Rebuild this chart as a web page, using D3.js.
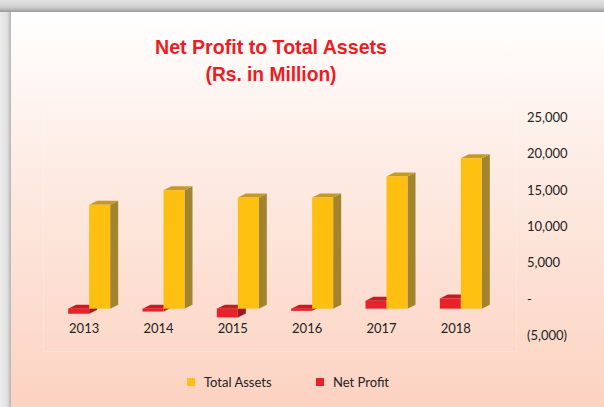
<!DOCTYPE html>
<html>
<head>
<meta charset="utf-8">
<script src="https://cdn.jsdelivr.net/npm/d3@7"></script>
<style>
  html, body { margin: 0; padding: 0; background: #e6e6e6; }
  svg { display: block; }
</style>
</head>
<body>
<svg id="chart" width="604" height="407"></svg>
<script>
// Figures in Rs. million
const years = ["2013", "2014", "2015", "2016", "2017", "2018"];
const totalAssets = [14300, 16300, 15300, 15300, 18200, 20700];
const netProfit = [-700, -400, -1200, -300, 1100, 1400];
const tickValues = [25000, 20000, 15000, 10000, 5000, 0, -5000];
const tickLabels = ["25,000", "20,000", "15,000", "10,000", "5,000", "-", "(5,000)"];
const seriesNames = ["Net Profit", "Total Assets"];

const W = 604, H = 407;
const svg = d3.select("#chart");
const defs = svg.append("defs");

// page background and card
const outer = defs.append("linearGradient").attr("id", "topShade").attr("x1", 0).attr("x2", 0).attr("y1", 0).attr("y2", 1);
outer.append("stop").attr("offset", "0%").attr("stop-color", "#e2e2e2");
outer.append("stop").attr("offset", "60%").attr("stop-color", "#cfcfcf");
outer.append("stop").attr("offset", "100%").attr("stop-color", "#9a9a9a");
const leftShade = defs.append("linearGradient").attr("id", "leftShade").attr("x1", 0).attr("x2", 1).attr("y1", 0).attr("y2", 0);
leftShade.append("stop").attr("offset", "0%").attr("stop-color", "#ececec");
leftShade.append("stop").attr("offset", "65%").attr("stop-color", "#e0e0e0");
leftShade.append("stop").attr("offset", "100%").attr("stop-color", "#b5b5b5");
const card = defs.append("linearGradient").attr("id", "cardFill").attr("x1", 0).attr("x2", 0).attr("y1", 0).attr("y2", 1);
card.append("stop").attr("offset", "0%").attr("stop-color", "#ffffff");
card.append("stop").attr("offset", "45%").attr("stop-color", "#fde9e0");
card.append("stop").attr("offset", "100%").attr("stop-color", "#fcd2c1");

svg.append("rect").attr("x", 0).attr("y", 0).attr("width", W).attr("height", H).attr("fill", "#e4e4e4");
svg.append("rect").attr("x", 0).attr("y", 0).attr("width", W).attr("height", 12).attr("fill", "url(#topShade)");
svg.append("rect").attr("x", 0).attr("y", 12).attr("width", 11).attr("height", H - 12).attr("fill", "url(#leftShade)");
svg.append("rect").attr("x", 11).attr("y", 12).attr("width", W - 11).attr("height", H - 12).attr("fill", "url(#cardFill)");

// title
const title = svg.append("g").attr("font-family", "'Liberation Sans', Arial, sans-serif")
  .attr("font-weight", "bold").attr("fill", "#ec1c24").attr("text-anchor", "middle");
title.append("text").attr("x", 271).attr("y", 54).attr("font-size", 21)
  .attr("textLength", 232).attr("lengthAdjust", "spacingAndGlyphs").text("Net Profit to Total Assets");
title.append("text").attr("x", 271).attr("y", 81).attr("font-size", 21)
  .attr("textLength", 131).attr("lengthAdjust", "spacingAndGlyphs").text("(Rs. in Million)");

// plot area outline (very faint)
svg.append("rect").attr("x", 43.5).attr("y", 110.5).attr("width", 473).attr("height", 241)
  .attr("fill", "none").attr("stroke", "#ffffff").attr("stroke-opacity", 0.22).attr("stroke-width", 1);

// scales
const x = d3.scaleBand().domain(years).range([47, 493]);
const xs = d3.scaleBand().domain(seriesNames).range([-16, 26]);
const yAxis = d3.scaleLinear().domain([-5000, 25000]).range([335, 117]);
const frontShift = 10;           // front face sits below the back wall
const y = v => yAxis(v) + frontShift;
const dx = 8, dy = -4;           // oblique depth of each column

// value axis on the right
const axisG = svg.append("g").attr("transform", "translate(527,0)")
  .call(d3.axisRight(yAxis).tickValues(tickValues).tickSize(0).tickPadding(0)
    .tickFormat((d, i) => tickLabels[i]));
axisG.select(".domain").remove();
axisG.selectAll("text").attr("font-family", "Lato, 'Open Sans', sans-serif").attr("font-size", 13)
  .attr("fill", "#222").attr("text-anchor", "start").attr("dy", "0.35em");

// category labels
svg.append("g").selectAll("text").data(years).join("text")
  .attr("x", d => x(d) + x.bandwidth() / 2).attr("y", 333)
  .attr("text-anchor", "middle").attr("font-family", "Lato, 'Open Sans', sans-serif")
  .attr("font-size", 13).attr("fill", "#222").text(d => d);

const palette = {
  "Total Assets": { front: "#fdbf10", side: "#a2842f", top: "#c49a26" },
  "Net Profit": { front: "#e8212a", side: "#9c1a1f", top: "#c11d24" }
};

const bars = [];
years.forEach((yr, i) => {
  bars.push({ year: yr, series: "Net Profit", value: netProfit[i] });
  bars.push({ year: yr, series: "Total Assets", value: totalAssets[i] });
});

const barG = svg.append("g");
bars.forEach(b => {
  const x0 = x(b.year) + x.bandwidth() / 2 + xs(b.series);
  const w = xs.bandwidth();
  const yTop = y(Math.max(b.value, 0));
  const yBot = y(Math.min(b.value, 0));
  const c = palette[b.series];
  const g = barG.append("g");
  // right side
  g.append("path").attr("fill", c.side)
    .attr("d", `M${x0 + w},${yTop} L${x0 + w + dx},${yTop + dy} L${x0 + w + dx},${yBot + dy} L${x0 + w},${yBot} Z`);
  // top face
  g.append("path").attr("fill", c.top)
    .attr("d", `M${x0},${yTop} L${x0 + dx},${yTop + dy} L${x0 + w + dx},${yTop + dy} L${x0 + w},${yTop} Z`);
  // front face
  g.append("rect").attr("x", x0).attr("y", yTop).attr("width", w).attr("height", Math.max(yBot - yTop, 0.5))
    .attr("fill", c.front);
});

// legend
const legend = svg.append("g").attr("font-family", "Lato, 'Open Sans', sans-serif").attr("font-size", 13).attr("fill", "#222");
const legendItems = [
  { name: "Total Assets", x: 187 },
  { name: "Net Profit", x: 316 }
];
legendItems.forEach(it => {
  legend.append("rect").attr("x", it.x).attr("y", 378).attr("width", 8).attr("height", 8)
    .attr("fill", palette[it.name].front);
  legend.append("text").attr("x", it.x + 17).attr("y", 386.5).text(it.name);
});
</script>
</body>
</html>
